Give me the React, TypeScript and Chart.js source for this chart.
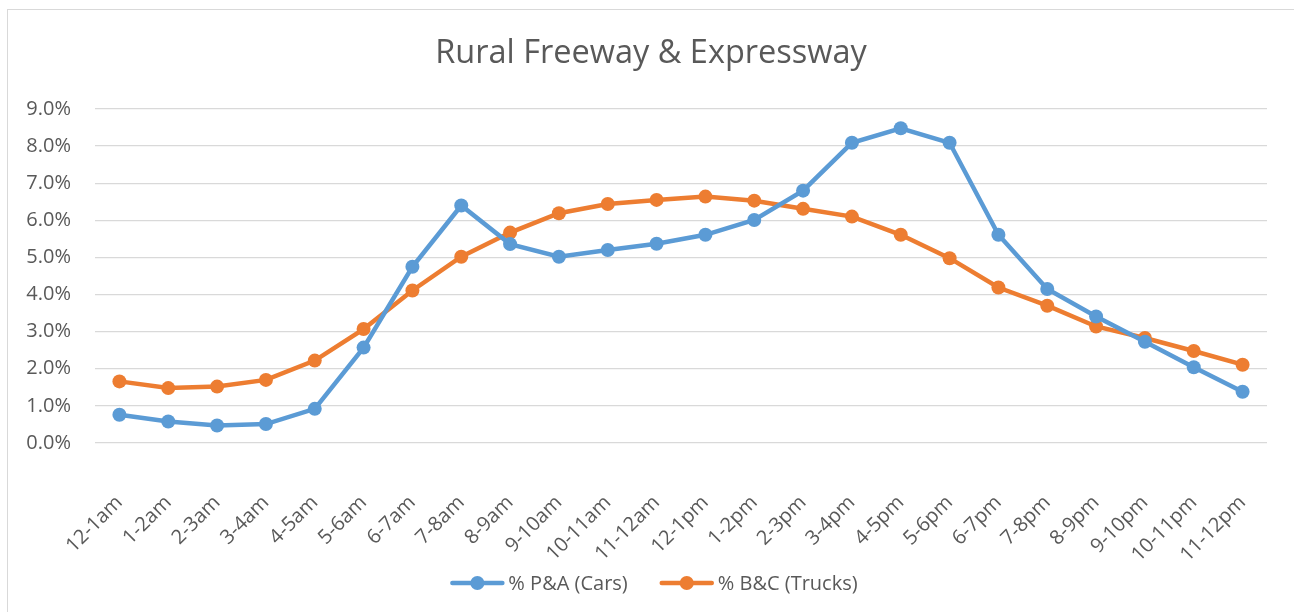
import React, { useEffect, useRef } from "react";
import { Chart, registerables } from "chart.js";

Chart.register(...registerables);

const hours = [
  "12-1am", "1-2am", "2-3am", "3-4am", "4-5am", "5-6am", "6-7am", "7-8am",
  "8-9am", "9-10am", "10-11am", "11-12am", "12-1pm", "1-2pm", "2-3pm", "3-4pm",
  "4-5pm", "5-6pm", "6-7pm", "7-8pm", "8-9pm", "9-10pm", "10-11pm", "11-12pm",
];

const carsPct = [
  0.76, 0.58, 0.47, 0.51, 0.92, 2.57, 4.75, 6.4, 5.36, 5.02, 5.2, 5.37,
  5.61, 6.01, 6.8, 8.09, 8.48, 8.09, 5.61, 4.15, 3.41, 2.73, 2.04, 1.38,
];

const trucksPct = [
  1.66, 1.48, 1.52, 1.7, 2.22, 3.07, 4.11, 5.02, 5.67, 6.19, 6.44, 6.55,
  6.64, 6.53, 6.31, 6.1, 5.61, 4.98, 4.19, 3.7, 3.14, 2.83, 2.48, 2.11,
];

const seriesNames = ["% P&A (Cars)", "% B&C (Trucks)"];
const seriesColors = ["#5B9BD5", "#ED7D31"];
const chartTitle = "Rural Freeway & Expressway";

const FONT = "'Open Sans', 'DejaVu Sans', sans-serif";
const TEXT = "#595959";
const GRID = "#D9D9D9";

const excelTitle = {
  id: "excelTitle",
  afterDraw(chart: any) {
    const ctx = chart.ctx;
    ctx.save();
    ctx.font = `32.5px ${FONT}`;
    ctx.fillStyle = TEXT;
    ctx.textAlign = "center";
    ctx.textBaseline = "alphabetic";
    ctx.fillText(chartTitle, chart.width / 2 + 4, 63);
    ctx.restore();
  },
};

const excelLegend = {
  id: "excelLegend",
  afterDraw(chart: any) {
    const ctx = chart.ctx;
    const ds = chart.data.datasets;
    ctx.save();
    ctx.font = `20px ${FONT}`;
    ctx.textBaseline = "middle";
    ctx.textAlign = "left";
    const lineW = 54;
    const gapText = 4;
    const gapItem = 32;
    const widths = ds.map((d: any) => lineW + gapText + ctx.measureText(d.label).width);
    const total = widths.reduce((a: number, b: number) => a + b, 0) + gapItem * (ds.length - 1);
    let x = chart.width / 2 + 7 - total / 2;
    const y = 583;
    ds.forEach((d: any, i: number) => {
      ctx.strokeStyle = d.borderColor;
      ctx.lineWidth = 4.5;
      ctx.lineCap = "round";
      ctx.beginPath();
      ctx.moveTo(x + 2, y);
      ctx.lineTo(x + lineW - 2, y);
      ctx.stroke();
      ctx.fillStyle = d.borderColor;
      ctx.beginPath();
      ctx.arc(x + lineW / 2, y, 7, 0, Math.PI * 2);
      ctx.fill();
      ctx.fillStyle = TEXT;
      ctx.fillText(d.label, x + lineW + gapText, y + 1);
      x += widths[i] + gapItem;
    });
    ctx.restore();
  },
};

export default function App() {
  const canvasRef = useRef<HTMLCanvasElement | null>(null);

  useEffect(() => {
    const canvas = canvasRef.current;
    if (!canvas) return;
    const chart = new Chart(canvas, {
      type: "line",
      data: {
        labels: hours,
        datasets: [carsPct, trucksPct].map((vals, i) => ({
          label: seriesNames[i],
          data: vals,
          borderColor: seriesColors[i],
          backgroundColor: seriesColors[i],
          pointBackgroundColor: seriesColors[i],
          pointBorderColor: seriesColors[i],
          borderWidth: 4.5,
          pointRadius: 7,
          pointBorderWidth: 0,
          tension: 0,
          fill: false,
        })),
      },
      options: {
        responsive: false,
        animation: false,
        layout: { padding: { left: 0, right: 27, top: 109, bottom: 0 } },
        plugins: {
          legend: { display: false },
          tooltip: { enabled: false },
          title: { display: false },
        },
        scales: {
          x: {
            offset: true,
            grid: { display: false },
            border: { display: false },
            ticks: {
              color: TEXT,
              font: { family: FONT, size: 20 },
              minRotation: 45,
              maxRotation: 45,
              autoSkip: false,
              padding: 40,
            },
            afterFit(scale: any) {
              scale.height = 169;
              scale.paddingRight = 0;
              scale.paddingLeft = 0;
            },
          },
          y: {
            min: 0,
            max: 9,
            grid: { color: GRID, lineWidth: 1.3, drawTicks: false },
            border: { display: false },
            ticks: {
              stepSize: 1,
              color: TEXT,
              font: { family: FONT, size: 20 },
              padding: 24,
              callback: (v: any) => Number(v).toFixed(1) + "%",
            },
            afterFit(scale: any) {
              scale.width = 95;
            },
          },
        },
      },
      plugins: [excelTitle, excelLegend],
    });
    return () => chart.destroy();
  }, []);

  return (
    <div style={{ position: "fixed", left: 0, top: 0, width: 1294, height: 612, background: "#fff" }}>
      <canvas ref={canvasRef} width={1294} height={612} style={{ position: "absolute", left: 0, top: 0 }} />
      <div
        style={{
          position: "absolute",
          left: 7,
          top: 9,
          width: 1287,
          height: 603,
          borderLeft: "1.5px solid #D9D9D9",
          borderTop: "1.5px solid #D9D9D9",
          boxSizing: "border-box",
          pointerEvents: "none",
        }}
      />
    </div>
  );
}
